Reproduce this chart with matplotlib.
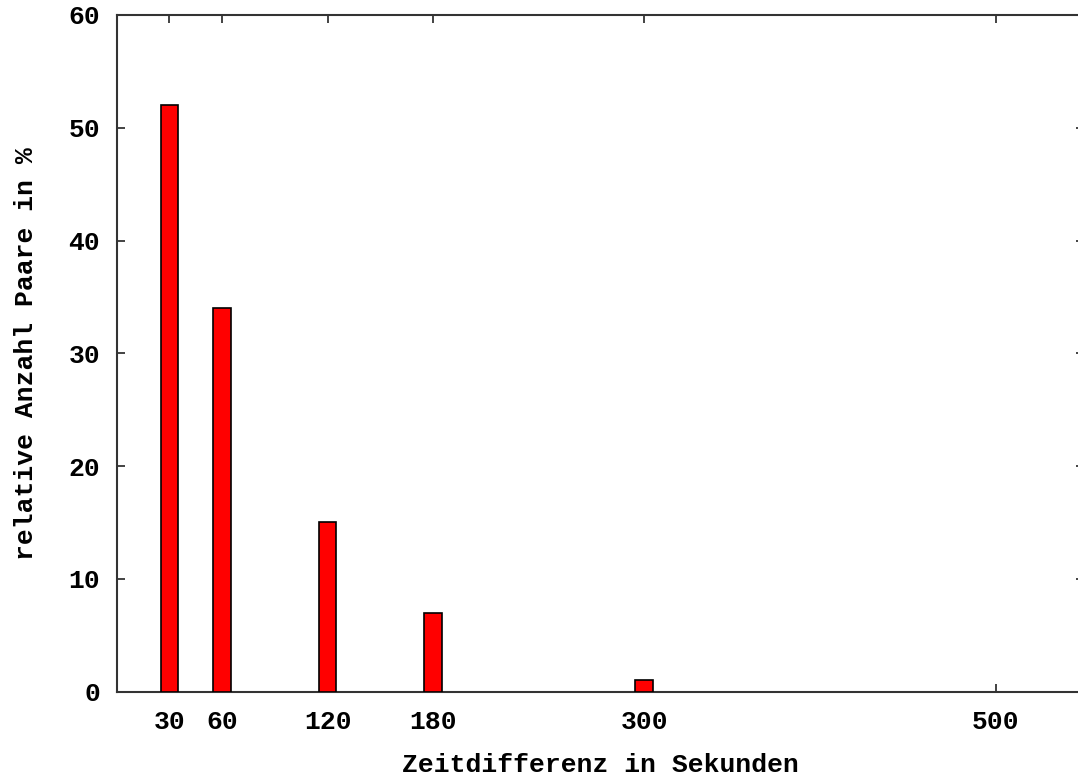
import matplotlib
matplotlib.use("Agg")
import matplotlib.pyplot as plt

# data
seconds = [30, 60, 120, 180, 300]
percent = [52, 34, 15, 7, 1]
xticks = [30, 60, 120, 180, 300, 500]
yticks = [0, 10, 20, 30, 40, 50, 60]

FONT = "Liberation Mono"
FS = 19

fig = plt.figure(figsize=(10.78, 7.79), dpi=100)
# axes right edge runs slightly past the figure (as in the reference crop)
ax = fig.add_axes([116.7 / 1078, 1 - 691.5 / 779, 967 / 1078, 676.5 / 779])

ax.bar(seconds, percent, width=10, color="#ff0000", edgecolor="black",
       linewidth=1.2, zorder=3)

ax.set_xlim(0, 550)
ax.set_ylim(0, 60)
ax.set_xticks(xticks)
ax.set_yticks(yticks)
ax.tick_params(direction="in", length=5.5, width=1.2, color="#222222",
               top=True, right=True, labelsize=FS)
ax.tick_params(axis="x", pad=13)
ax.tick_params(axis="y", pad=12)
for lab in ax.get_xticklabels() + ax.get_yticklabels():
    lab.set_fontfamily(FONT)
    lab.set_fontweight("bold")
for s in ax.spines.values():
    s.set_linewidth(1.5)
    s.set_color("#333333")

ax.set_xlabel("Zeitdifferenz in Sekunden", fontsize=FS, fontfamily=FONT,
              fontweight="bold", labelpad=14)
ax.set_ylabel("relative Anzahl Paare in %", fontsize=FS, fontfamily=FONT,
              fontweight="bold", labelpad=22)

fig.savefig("out.png", dpi=100, facecolor="white")
